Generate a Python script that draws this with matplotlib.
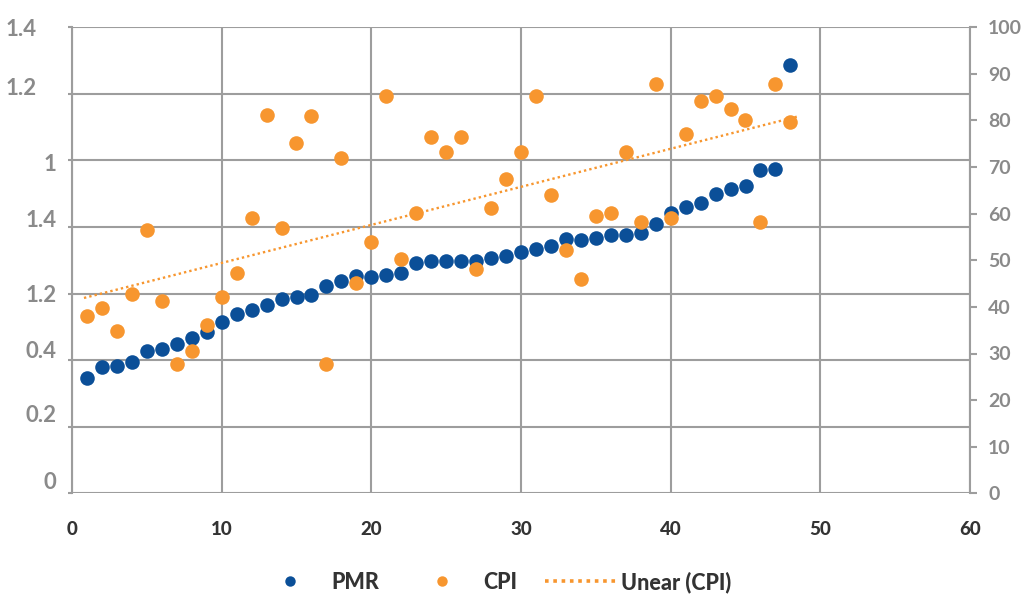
import numpy as np
import matplotlib
matplotlib.use("Agg")
import matplotlib.pyplot as plt
from matplotlib.lines import Line2D
from matplotlib.transforms import ScaledTranslation

# Observation index
idx = list(range(1, 49))

# PMR (left axis)
pmr = [0.345, 0.379, 0.383, 0.395, 0.428, 0.434, 0.448, 0.467, 0.486, 0.514,
       0.538, 0.551, 0.567, 0.585, 0.591, 0.596, 0.624, 0.639, 0.653, 0.651,
       0.655, 0.663, 0.693, 0.697, 0.697, 0.697, 0.697, 0.706, 0.713, 0.724,
       0.733, 0.743, 0.763, 0.761, 0.768, 0.775, 0.775, 0.783, 0.809, 0.843,
       0.861, 0.873, 0.898, 0.913, 0.924, 0.971, 0.975, 1.286]

# CPI (right axis)
cpi = [38.0, 39.8, 34.8, 42.8, 56.4, 41.2, 27.7, 30.5, 36.1, 42.1,
       47.3, 59.1, 81.1, 56.9, 75.1, 81.0, 27.7, 72.0, 45.1, 53.9,
       85.3, 50.3, 60.2, 76.5, 73.3, 76.5, 48.1, 61.2, 67.4, 73.3,
       85.3, 64.1, 52.3, 46.0, 59.5, 60.2, 73.3, 58.2, 87.8, 59.1,
       77.0, 84.2, 85.2, 82.5, 80.0, 58.2, 87.8, 79.7]

x_ticks = [0, 10, 20, 30, 40, 50, 60]
left_ticks = [0, 0.2, 0.4, 0.6, 0.8, 1.0, 1.2, 1.4]
left_labels = ["0", "0.2", "0.4", "1.2", "1.4", "1", "1.2", "1.4"]
right_ticks = [0, 10, 20, 30, 40, 50, 60, 70, 80, 90, 100]

BLUE = "#0b4f98"
ORANGE = "#f7962f"
GRID = "#9d9d9d"
LABEL_GREY = "#8a8a8a"
DARK = "#333333"
FONT = "Lato"
HEAVY = 900

plt.rcParams["font.family"] = [FONT, "DejaVu Sans"]

fig = plt.figure(figsize=(10.23, 5.95), dpi=100)
ax = fig.add_axes([72 / 1023, 1 - 493.3 / 595, 898 / 1023, 466 / 595])
ax2 = ax.twinx()

# Left axis: PMR
ax.scatter(idx, pmr, s=110, color=BLUE, linewidths=0, zorder=3)
ax.set_xlim(0, 60)
ax.set_ylim(0, 1.4)
ax.set_xticks(x_ticks)
ax.set_xticklabels([str(t) for t in x_ticks], fontsize=13.5, fontweight=HEAVY,
                   color=DARK)
ax.set_yticks(left_ticks)
ax.set_yticklabels(left_labels, fontsize=16, fontweight="bold",
                   color=LABEL_GREY)
ax.tick_params(axis="x", length=0, pad=20)
ax.tick_params(axis="y", length=3, width=1.5, color=GRID, pad=8)
ax.grid(True, color=GRID, linewidth=1.5)
ax.set_axisbelow(True)
for side in ("top", "right", "bottom"):
    ax.spines[side].set_visible(False)
ax.spines["left"].set_color(GRID)
ax.spines["left"].set_linewidth(1.5)

# Small per-label shifts of the left-axis labels (pixels: dx, dy)
shifts = [(0, 13), (0, 13), (0, 11), (0, 0), (0, 9), (0, -2), (-20, 7), (-20, 0)]
for lab, (dx, dy) in zip(ax.get_yticklabels(), shifts):
    lab.set_transform(lab.get_transform() +
                      ScaledTranslation(dx / 100, dy / 100, fig.dpi_scale_trans))

# Right axis: CPI with linear trend
ax2.scatter(idx, cpi, s=110, color=ORANGE, linewidths=0, zorder=3)
coef = np.polyfit(idx, cpi, 1)
tx = np.array([0.8, 48.5])
ax2.plot(tx, np.polyval(coef, tx), color=ORANGE, linewidth=1.7,
         linestyle=(0, (1, 1.3)), dash_capstyle="butt", zorder=4)
ax2.set_ylim(0, 100)
ax2.set_yticks(right_ticks)
ax2.set_yticklabels([str(t) for t in right_ticks], fontsize=14,
                    fontweight="bold", color=LABEL_GREY)
ax2.tick_params(axis="y", length=5, width=1.5, color=GRID, pad=8)
for side in ("top", "left", "bottom"):
    ax2.spines[side].set_visible(False)
ax2.spines["right"].set_color(GRID)
ax2.spines["right"].set_linewidth(1.5)

# Legend
handles = [
    Line2D([], [], linestyle="none", marker="o", markersize=7.5,
           markerfacecolor=BLUE, markeredgewidth=0),
    Line2D([], [], linestyle="none", marker="o", markersize=7.5,
           markerfacecolor=ORANGE, markeredgewidth=0),
    Line2D([], [], color=ORANGE, linewidth=2.6, linestyle=(0, (1, 1.3)),
           dash_capstyle="butt"),
]
fig.legend(handles, ["PMR", "CPI", "Unear (CPI)"], loc="center",
           bbox_to_anchor=(0.482, 1 - 582 / 595), ncol=3, frameon=False,
           numpoints=1, handlelength=3.3, handletextpad=0.25,
           columnspacing=1.3,
           prop={"family": FONT, "size": 15.5, "weight": HEAVY},
           labelcolor=DARK)

fig.savefig("out.png", dpi=100)
